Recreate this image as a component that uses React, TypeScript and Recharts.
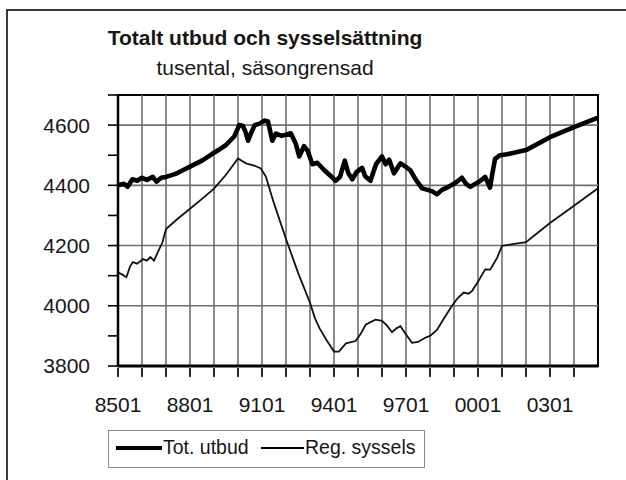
import React from 'react';
import { LineChart, Line, XAxis, YAxis, ReferenceArea, ReferenceLine } from 'recharts';

// Tot. utbud (tusental), decimal year
const utbudTime = [
  1985.0, 1985.25, 1985.4, 1985.6, 1985.8, 1986.0, 1986.2, 1986.45, 1986.6, 1986.8,
  1987.0, 1987.4, 1987.7, 1988.0, 1988.5, 1988.9, 1989.2, 1989.5, 1989.85, 1990.05,
  1990.2, 1990.3, 1990.42, 1990.55, 1990.7, 1990.9, 1991.1, 1991.25, 1991.43, 1991.58,
  1991.8, 1992.0, 1992.2, 1992.4, 1992.55, 1992.75, 1992.9, 1993.1, 1993.3, 1993.6,
  1993.85, 1994.07, 1994.25, 1994.45, 1994.6, 1994.76, 1994.95, 1995.17, 1995.3, 1995.52,
  1995.75, 1996.0, 1996.15, 1996.3, 1996.5, 1996.77, 1996.98, 1997.18, 1997.4, 1997.67,
  1997.9, 1998.1, 1998.29, 1998.5, 1998.77, 1999.0, 1999.33, 1999.5, 1999.68, 1999.9,
  2000.1, 2000.3, 2000.5, 2000.6, 2000.71, 2000.92, 2001.2, 2001.5, 2002.0, 2003.0,
  2004.0, 2005.0,
];
const utbudValue = [
  4400, 4405, 4395, 4420, 4415, 4425, 4418, 4428, 4412, 4425,
  4428, 4438, 4450, 4462, 4482, 4503, 4518, 4534, 4563, 4600,
  4598, 4580, 4548, 4575, 4600, 4605, 4615, 4612, 4548, 4572,
  4565, 4568, 4573, 4540, 4496, 4530, 4515, 4470, 4475, 4450,
  4432, 4415, 4428, 4482, 4440, 4420, 4445, 4458, 4430, 4415,
  4470, 4496, 4470, 4485, 4440, 4473, 4462, 4450, 4420, 4390,
  4385, 4380, 4370, 4385, 4395, 4405, 4425, 4405, 4395, 4405,
  4415, 4428, 4392, 4440, 4488, 4500, 4503, 4508, 4517, 4560,
  4593, 4625,
];

// Reg. syssels (tusental), decimal year
const syssTime = [
  1985.0, 1985.15, 1985.35, 1985.5, 1985.62, 1985.8, 1986.04, 1986.2, 1986.35, 1986.5,
  1986.66, 1986.85, 1987.0, 1987.5, 1988.0, 1988.5, 1989.0, 1989.5, 1990.0, 1990.33,
  1990.7, 1990.95, 1991.16, 1991.5, 1992.0, 1992.5, 1993.0, 1993.2, 1993.4, 1993.7,
  1994.0, 1994.2, 1994.5, 1994.9, 1995.1, 1995.32, 1995.5, 1995.73, 1996.0, 1996.2,
  1996.42, 1996.6, 1996.77, 1997.0, 1997.25, 1997.5, 1997.8, 1998.0, 1998.29, 1998.6,
  1998.91, 1999.15, 1999.4, 1999.6, 1999.74, 2000.0, 2000.3, 2000.5, 2000.57, 2000.8,
  2001.0, 2002.0, 2003.0, 2004.0, 2005.0,
];
const syssValue = [
  4110, 4105, 4095, 4130, 4145, 4140, 4155, 4150, 4162, 4150,
  4178, 4210, 4255, 4290, 4322, 4355, 4389, 4435, 4489, 4473,
  4465, 4456, 4429, 4340, 4222, 4110, 4010, 3960, 3925, 3885,
  3848, 3848, 3875, 3883, 3905, 3937, 3945, 3954, 3950, 3935,
  3912, 3925, 3932, 3905, 3877, 3880, 3894, 3900, 3920, 3960,
  3999, 4025, 4044, 4040, 4048, 4080, 4121, 4120, 4128, 4160,
  4199, 4211, 4275, 4332, 4390,
];

const xTicks = [
  1985, 1986, 1987, 1988, 1989, 1990, 1991, 1992, 1993, 1994,
  1995, 1996, 1997, 1998, 1999, 2000, 2001, 2002, 2003, 2004,
];
const xLabelYears = [1985, 1988, 1991, 1994, 1997, 2000, 2003];
const xLabels = ['8501', '8801', '9101', '9401', '9701', '0001', '0301'];
const yTicks = [3800, 3900, 4000, 4100, 4200, 4300, 4400, 4500, 4600, 4700];
const yLabels = [3800, 4000, 4200, 4400, 4600];
const yGrid = [4000, 4200, 4400, 4600];

const utbudData = utbudTime.map((t, i) => ({ t, v: utbudValue[i] }));
const syssData = syssTime.map((t, i) => ({ t, v: syssValue[i] }));

const FONT = '"Liberation Sans", Arial, sans-serif';
const INK = '#161616';
const GRID = '#707070';

// tick mark + label (label only every third year)
const XTick = (props: any) => {
  const { x, y, payload } = props;
  const idx = xLabelYears.indexOf(payload.value);
  return (
    <g>
      <path d={`M${x},${y - 9}V${y}`} stroke="#000" strokeWidth={1.6} fill="none" />
      <text x={x} y={y + 35} textAnchor="middle" fontSize={21} fontFamily={FONT} fill={INK}>
        {idx >= 0 ? xLabels[idx] : ''}
      </text>
    </g>
  );
};

export default function App() {
  return (
    <div style={{ position: 'absolute', left: 0, top: 0, width: 626, height: 480, background: '#fff' }}>
      <div style={{ position: 'absolute', left: 0, width: 530, top: 26, textAlign: 'center', fontSize: 21, fontWeight: 'bold', color: INK, fontFamily: FONT }}>
        Totalt utbud och sysselsättning
      </div>
      <div style={{ position: 'absolute', left: 0, width: 530, top: 56, textAlign: 'center', fontSize: 21, color: INK, fontFamily: FONT }}>
        tusental, säsongrensad
      </div>
      <div style={{ position: 'absolute', left: 0, top: 0 }}>
        <LineChart width={626} height={480} margin={{ top: 95, right: 28, bottom: 74, left: 0 }}>
          <XAxis
            dataKey="t"
            type="number"
            domain={[1985, 2005]}
            ticks={xTicks}
            interval={0}
            height={40}
            tick={<XTick />}
            tickSize={9}
            axisLine={{ stroke: '#000', strokeWidth: 3 }}
          />
          <YAxis
            type="number"
            domain={[3800, 4700]}
            ticks={yTicks}
            interval={0}
            width={118}
            tickSize={10}
            tickMargin={18}
            tickFormatter={(v: number) => (yLabels.includes(v) ? String(v) : '')}
            tick={{ fontSize: 21, fill: INK, fontFamily: FONT }}
            tickLine={{ stroke: '#000', strokeWidth: 1.6 }}
            axisLine={{ stroke: '#000', strokeWidth: 2.5 }}
          />
          {xTicks.slice(1).map((yr) => (
            <ReferenceLine key={`v${yr}`} x={yr} stroke={GRID} strokeWidth={1.6} />
          ))}
          {yGrid.map((v) => (
            <ReferenceLine key={`h${v}`} y={v} stroke={GRID} strokeWidth={1.6} />
          ))}
          <ReferenceArea x1={1985} x2={2005} y1={3800} y2={4700} fill="none" stroke="#000" strokeWidth={2} />
          <Line data={syssData} dataKey="v" stroke="#111" strokeWidth={1.8} dot={false} isAnimationActive={false} />
          <Line data={utbudData} dataKey="v" stroke="#000" strokeWidth={4.6} strokeLinejoin="round" dot={false} isAnimationActive={false} />
        </LineChart>
      </div>
      <div style={{ position: 'absolute', left: 6, top: 9, width: 620, height: 471, boxSizing: 'border-box', borderTop: '2px solid #3a3a3a', borderLeft: '2px solid #3a3a3a', pointerEvents: 'none' }} />
      <div style={{ position: 'absolute', left: 108, top: 430, width: 317, height: 38, boxSizing: 'border-box', border: '1px solid #8a8a8a', background: '#fff', fontFamily: FONT, fontSize: 19.5, color: INK }}>
        <span style={{ position: 'absolute', left: 7, top: 15, width: 46, height: 4, background: '#000' }} />
        <span style={{ position: 'absolute', left: 54, top: 5, whiteSpace: 'nowrap' }}>Tot. utbud</span>
        <span style={{ position: 'absolute', left: 152, top: 16, width: 43, height: 2, background: '#000' }} />
        <span style={{ position: 'absolute', left: 196, top: 5, whiteSpace: 'nowrap' }}>Reg. syssels</span>
      </div>
    </div>
  );
}
